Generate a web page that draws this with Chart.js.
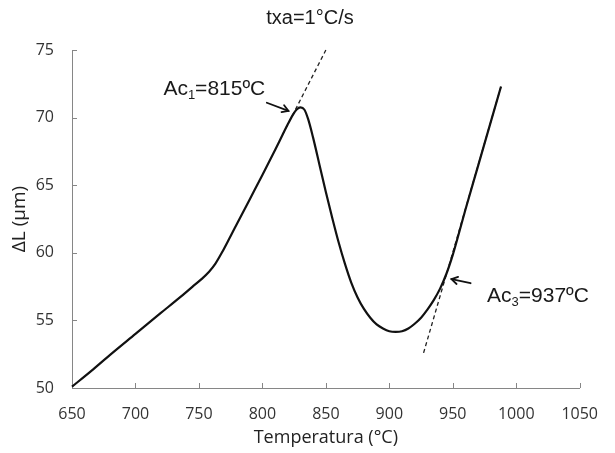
<!DOCTYPE html>
<html><head><meta charset="utf-8">
<script src="https://cdn.jsdelivr.net/npm/chart.js@4.4.0/dist/chart.umd.min.js"></script>
<style>html,body{margin:0;padding:0;background:#fff}#wrap{width:615px;height:453px}</style>
</head><body><div id="wrap"><canvas id="c" width="615" height="453"></canvas></div>
<script>
// ---- data ----
const temperature = [650,665,680,700,720,735,745,752,758,763,768,775,780,790,800,810,816,820,824,827,830,833,836,840,845,850,855,860,865,870,875,880,885,890,895,900,905,910,915,920,925,930,935,940,945,950,955,960,970,980,988];
const deltaL      = [50.1,51.25,52.45,54.0,55.55,56.7,57.5,58.05,58.6,59.2,60.0,61.25,62.15,63.95,65.75,67.6,68.75,69.5,70.2,70.6,70.75,70.6,69.9,68.5,66.5,64.5,62.6,60.8,59.2,57.8,56.7,55.85,55.2,54.7,54.4,54.2,54.15,54.2,54.4,54.75,55.2,55.8,56.5,57.35,58.45,59.85,61.5,63.2,66.45,69.7,72.3];
const tangent1X = [816, 850];
const tangent1Y = [68.75, 75.0];
const tangent2X = [927, 988];
const tangent2Y = [52.6, 72.3];
const xTicks = [650,700,750,800,850,900,950,1000,1050];
const yTicks = [50,55,60,65,70,75];
const titleText = 'txa=1°C/s';
const xTitle = 'Temperatura (°C)';
const yTitle = 'ΔL (μm)';
const ac1 = {main:'Ac', sub:'1', rest:'=815ºC', x:722, y:71.65, arrowFrom:[803.5,71.1], arrowTo:[820.5,70.5]};
const ac3 = {main:'Ac', sub:'3', rest:'=937ºC', x:977, y:56.35, arrowFrom:[964,57.75], arrowTo:[949,58.05]};

const pts = (xs, ys) => xs.map((v,i)=>({x:v, y:ys[i]}));
const axisColor = '#868686';
const tickFont = {family:'"Open Sans", sans-serif', size:16};
const txtFont = '"Liberation Sans", Arial, sans-serif';

const overlay = {
  id:'overlay',
  afterDraw(chart){
    const {ctx, scales:{x, y}} = chart;
    ctx.save();
    ctx.strokeStyle = axisColor; ctx.lineWidth = 1;
    ctx.beginPath();
    xTicks.forEach(v=>{ if(v===650) return; const px=Math.round(x.getPixelForValue(v))+0.5; ctx.moveTo(px, y.bottom); ctx.lineTo(px, y.bottom-5); });
    yTicks.forEach(v=>{ if(v===50) return; const py=Math.round(y.getPixelForValue(v))+0.5; ctx.moveTo(x.left, py); ctx.lineTo(x.left+5, py); });
    ctx.stroke();
    // title
    ctx.fillStyle = '#1a1a1a'; ctx.textAlign='center'; ctx.textBaseline='middle';
    ctx.font = '20px ' + txtFont;
    ctx.fillText(titleText, 310, 18);
    // annotations
    const drawLabel = (a) => {
      let px = x.getPixelForValue(a.x), py = y.getPixelForValue(a.y);
      ctx.fillStyle = '#1a1a1a'; ctx.textBaseline = 'alphabetic'; ctx.textAlign='left';
      ctx.font = '21px ' + txtFont;
      ctx.fillText(a.main, px, py); px += ctx.measureText(a.main).width;
      ctx.font = '13px ' + txtFont;
      ctx.fillText(a.sub, px, py+4); px += ctx.measureText(a.sub).width;
      ctx.font = '21px ' + txtFont;
      ctx.fillText(a.rest, px, py);
    };
    const drawArrow = (f, t) => {
      const x1=x.getPixelForValue(f[0]), y1=y.getPixelForValue(f[1]);
      const x2=x.getPixelForValue(t[0]), y2=y.getPixelForValue(t[1]);
      ctx.strokeStyle='#111'; ctx.lineWidth=1.8; ctx.lineCap='round';
      ctx.beginPath(); ctx.moveTo(x1,y1); ctx.lineTo(x2,y2); ctx.stroke();
      const ang = Math.atan2(y2-y1, x2-x1), L=7, w=0.55;
      ctx.beginPath();
      ctx.moveTo(x2 - L*Math.cos(ang-w), y2 - L*Math.sin(ang-w));
      ctx.lineTo(x2, y2);
      ctx.lineTo(x2 - L*Math.cos(ang+w), y2 - L*Math.sin(ang+w));
      ctx.stroke();
    };
    drawLabel(ac1); drawArrow(ac1.arrowFrom, ac1.arrowTo);
    drawLabel(ac3); drawArrow(ac3.arrowFrom, ac3.arrowTo);
    ctx.restore();
  }
};

new Chart(document.getElementById('c'), {
  type:'scatter',
  data:{datasets:[
    {data:pts(temperature, deltaL), showLine:true, borderColor:'#111', borderWidth:2.2, pointRadius:0, cubicInterpolationMode:'monotone', clip:false},
    {data:pts(tangent1X, tangent1Y), showLine:true, borderColor:'#222', borderWidth:1.3, borderDash:[4,3], pointRadius:0, clip:false},
    {data:pts(tangent2X, tangent2Y), showLine:true, borderColor:'#222', borderWidth:1.3, borderDash:[4,3], pointRadius:0, clip:false}
  ]},
  options:{
    responsive:false, animation:false, devicePixelRatio:1,
    layout:{padding:{top:50,right:22,left:0,bottom:0}},
    plugins:{ legend:{display:false}, tooltip:{enabled:false}, title:{display:false} },
    scales:{
      x:{type:'linear', min:650, max:1050,
        afterBuildTicks:s=>{s.ticks = xTicks.map(v=>({value:v}));},
        afterFit:s=>{s.height=65;},
        grid:{display:false, drawTicks:false}, border:{display:true, color:axisColor, width:1},
        ticks:{color:'#333', font:tickFont, padding:17, maxRotation:0, autoSkip:false, callback:v=>String(v)},
        title:{display:true, text:xTitle, color:'#222', font:{family:'"Open Sans", sans-serif', size:18}, padding:{top:0,bottom:4}}
      },
      y:{type:'linear', min:50, max:75,
        afterBuildTicks:s=>{s.ticks = yTicks.map(v=>({value:v}));},
        afterFit:s=>{s.width=72;},
        grid:{display:false, drawTicks:false}, border:{display:true, color:axisColor, width:1},
        ticks:{color:'#333', font:tickFont, padding:18, callback:v=>String(v)},
        title:{display:true, text:yTitle, color:'#222', font:{family:'"Open Sans", sans-serif', size:19}, padding:{top:8,bottom:0}}
      }
    }
  },
  plugins:[overlay]
});
</script></body></html>
